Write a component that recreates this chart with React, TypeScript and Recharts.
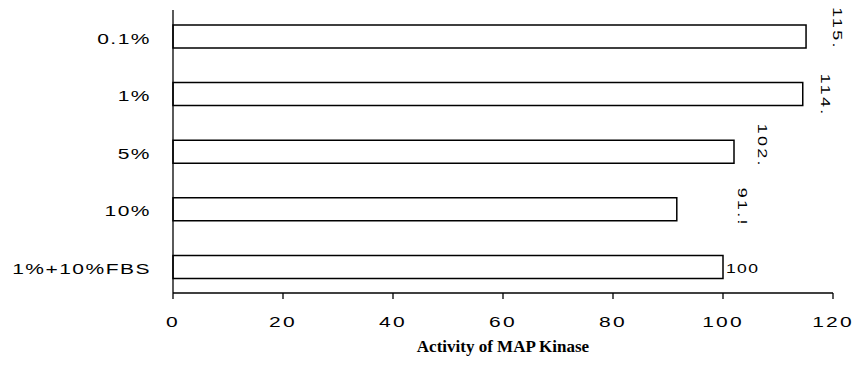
import React from "react";
import { BarChart, Bar, XAxis, YAxis, LabelList } from "recharts";

// Values.
const CATEGORIES = ["0.1%", "1%", "5%", "10%", "1%+10%FBS"];
const VALUES = [115.1, 114.5, 102, 91.6, 100];
const LABELS = ["115.", "114.", "102.", "91.!", "100"];
const X_TICKS = [0, 20, 40, 60, 80, 100, 120];

// Where the (rotated) value labels sit relative to the bar end.
const LABEL_DX = [31, 23, 28, 66, 3];
const LABEL_DY = [-8, 1, -6, -2, 1];
const LABEL_ROTATED = [true, true, true, true, false];

const data = CATEGORIES.map((name, i) => ({ name, value: VALUES[i], label: LABELS[i] }));

const SANS = "'Liberation Sans', Arial, sans-serif";

const YTick = (props: any) => {
  const { x, y, payload } = props;
  return (
    <text
      transform={`translate(${x - 14},${y + 2}) scale(1.5,1)`}
      textAnchor="end"
      dominantBaseline="central"
      fontFamily={SANS}
      fontSize={14}
      letterSpacing={1}
      fill="#000"
    >
      {payload.value}
    </text>
  );
};

const XTick = (props: any) => {
  const { x, y, payload } = props;
  return (
    <text
      transform={`translate(${x},${y + 26}) scale(1.5,1)`}
      textAnchor="middle"
      fontFamily={SANS}
      fontSize={14}
      letterSpacing={1.5}
      fill="#000"
    >
      {payload.value}
    </text>
  );
};

const ValueLabel = (props: any) => {
  const { x, y, width, height, index, value } = props;
  const ex = x + width + LABEL_DX[index];
  const ey = y + height / 2 + LABEL_DY[index];
  if (!LABEL_ROTATED[index]) {
    return (
      <text
        transform={`translate(${ex},${ey}) scale(1.35,1)`}
        textAnchor="start"
        dominantBaseline="central"
        fontFamily={SANS}
        fontSize={13}
        letterSpacing={1}
        fill="#000"
      >
        {value}
      </text>
    );
  }
  return (
    <text
      transform={`translate(${ex},${ey}) rotate(90) scale(1.5,1)`}
      textAnchor="middle"
      dominantBaseline="central"
      fontFamily={SANS}
      fontSize={12}
      letterSpacing={1.5}
      fill="#000"
    >
      {value}
    </text>
  );
};

export default function App() {
  return (
    <div style={{ position: "absolute", left: 0, top: 0, background: "#fff" }}>
      <BarChart
        width={857}
        height={372}
        data={data}
        layout="vertical"
        margin={{ top: 10, right: 24, bottom: 0, left: 0 }}
      >
        <XAxis
          type="number"
          domain={[0, 120]}
          ticks={X_TICKS}
          height={79}
          stroke="#000"
          strokeWidth={1.3}
          tickSize={6}
          tick={<XTick />}
          label={{
            value: "Activity of MAP Kinase",
            position: "insideBottom",
            offset: 20,
            fill: "#000",
            fontFamily: "'Liberation Serif', 'Times New Roman', serif",
            fontWeight: "bold",
            fontSize: 17,
          }}
        />
        <YAxis
          type="category"
          dataKey="name"
          width={173}
          stroke="#000"
          strokeWidth={1.3}
          tickLine={false}
          tick={<YTick />}
          padding={{ top: -2, bottom: -3 }}
        />
        <Bar
          dataKey="value"
          fill="#fff"
          stroke="#000"
          strokeWidth={1.5}
          barSize={23}
          isAnimationActive={false}
        >
          <LabelList dataKey="label" content={<ValueLabel />} />
        </Bar>
      </BarChart>
    </div>
  );
}
